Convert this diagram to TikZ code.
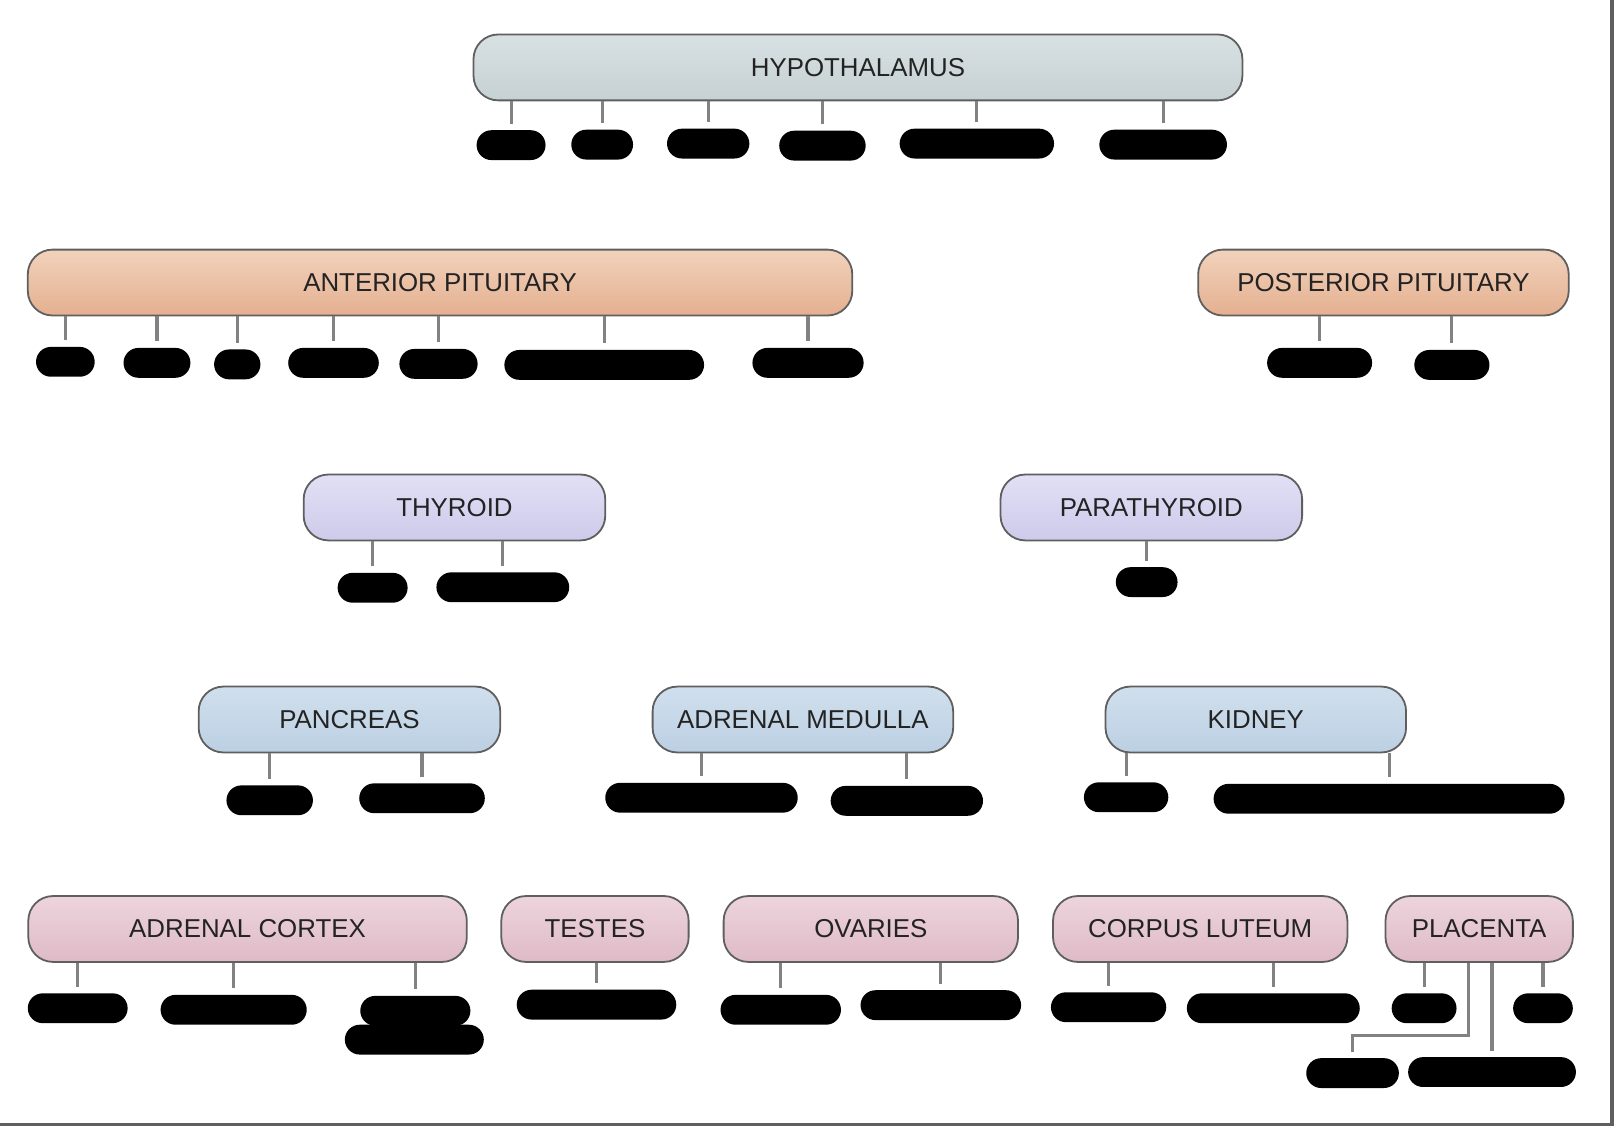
\documentclass[tikz,border=0pt]{standalone}
\usepackage{fontspec}
\setmainfont{Liberation Sans}
\definecolor{glandline}{RGB}{95,95,95}
\definecolor{stemgray}{RGB}{130,130,130}
\definecolor{labelgray}{RGB}{35,35,35}
\definecolor{hypotop}{RGB}{216,224,226}
\definecolor{hypobot}{RGB}{198,209,212}
\definecolor{pittop}{RGB}{242,210,188}
\definecolor{pitbot}{RGB}{228,176,144}
\definecolor{thytop}{RGB}{226,224,246}
\definecolor{thybot}{RGB}{206,202,234}
\definecolor{bluetop}{RGB}{208,223,237}
\definecolor{bluebot}{RGB}{188,208,227}
\definecolor{pinktop}{RGB}{237,212,220}
\definecolor{pinkbot}{RGB}{222,186,199}

\begin{document}
\begin{tikzpicture}[x=0.2mm,y=-0.2mm,
  gland/.style={draw=glandline,line width=0.35mm,rounded corners=4.8mm,minimum height=12.8mm,inner sep=0pt,text=labelgray,font=\fontsize{14.3}{17}\selectfont},
  hypo/.style={gland,top color=hypotop,bottom color=hypobot},
  pit/.style={gland,top color=pittop,bottom color=pitbot},
  thy/.style={gland,top color=thytop,bottom color=thybot},
  organ/.style={gland,top color=bluetop,bottom color=bluebot},
  gonad/.style={gland,top color=pinktop,bottom color=pinkbot},
  blob/.style={fill=black,rounded corners=2.9mm,minimum height=5.8mm,inner sep=0pt},
  stem/.style={draw=stemgray,line width=0.6mm}]
  \useasboundingbox (0,0) rectangle (1568,1094);
  \draw[glandline,line width=0.7mm] (0,1092.5) -- (1566,1092.5) -- (1566,0);

  \node[hypo,minimum width=149.4mm] (hyp) at (833.5,65.5) {HYPOTHALAMUS};
  \node[pit,minimum width=160.2mm] (ant) at (427.5,274.5) {ANTERIOR PITUITARY};
  \node[pit,minimum width=72mm] (post) at (1344,274.5) {POSTERIOR PITUITARY};
  \node[thy,minimum width=58.6mm] (thy) at (441.5,493) {THYROID};
  \node[thy,minimum width=58.6mm] (para) at (1118.5,493) {PARATHYROID};
  \node[organ,minimum width=58.6mm] (panc) at (339.5,699) {PANCREAS};
  \node[organ,minimum width=58.4mm] (med) at (780,699) {ADRENAL MEDULLA};
  \node[organ,minimum width=58.4mm] (kid) at (1220,699) {KIDNEY};
  \node[gonad,minimum width=85.2mm] (cor) at (240.5,902.5) {ADRENAL CORTEX};
  \node[gonad,minimum width=36.4mm] (tes) at (578,902.5) {TESTES};
  \node[gonad,minimum width=57.2mm] (ova) at (846,902.5) {OVARIES};
  \node[gonad,minimum width=57.2mm] (lut) at (1166,902.5) {CORPUS LUTEUM};
  \node[gonad,minimum width=36.4mm] (pla) at (1437,902.5) {PLACENTA};

  \foreach \n/\x/\y/\w in {h1/496.5/141/67,h2/585/140.5/60,h3/688/139.5/80,h4/799/141.5/84,h5/949/139.5/150,h6/1130/140.5/124,
    a1/63.5/351.5/57,a2/152.5/352.5/65,a3/230.5/354/45,a4/324/352.5/88,a5/426/353.5/76,a6/587/354.5/194,a7/785/352.5/108,
    p1/1282/352.5/102,p2/1410.5/354.5/73,t1/362/571/68,t2/488.5/570.5/129,r1/1114/565.5/60,
    c1/262/777.5/84,c2/410/775.5/122,m1/681.5/775/187,m2/881/778/148,k1/1094/774.5/82,k2/1349.5/776/341,
    x1/75.5/979.5/97,x2/227/981/142,x3/403.5/982/107,x4/402.5/1010/135,s1/579.5/976/155,
    o1/758.5/981/117,o2/914/976.5/156,l1/1077/978.5/112,l2/1237/979.5/168,
    q1/1383.5/979.5/63,q2/1499/979.5/58,q3/1314/1042.5/90,q4/1449.5/1041.5/163}
    \node[blob,minimum width=\w*0.2mm] (\n) at (\x,\y) {};

  \foreach \g/\n in {hyp/h1,hyp/h2,hyp/h3,hyp/h4,hyp/h5,hyp/h6,
    ant/a1,ant/a2,ant/a3,ant/a4,ant/a5,ant/a6,ant/a7,post/p1,post/p2,
    thy/t1,thy/t2,para/r1,panc/c1,panc/c2,med/m1,med/m2,kid/k1,kid/k2,
    cor/x1,cor/x2,cor/x3,tes/s1,ova/o1,ova/o2,lut/l1,lut/l2,pla/q1,pla/q2,pla/q4}
    \draw[stem] (\g.south -| \n) -- ([yshift=1.2mm]\n.north);
  \coordinate (qbend) at (1427,1006);
  \draw[stem] (pla.south -| qbend) -- (qbend) -| ([yshift=1.2mm]q3.north);
\end{tikzpicture}
\end{document}
